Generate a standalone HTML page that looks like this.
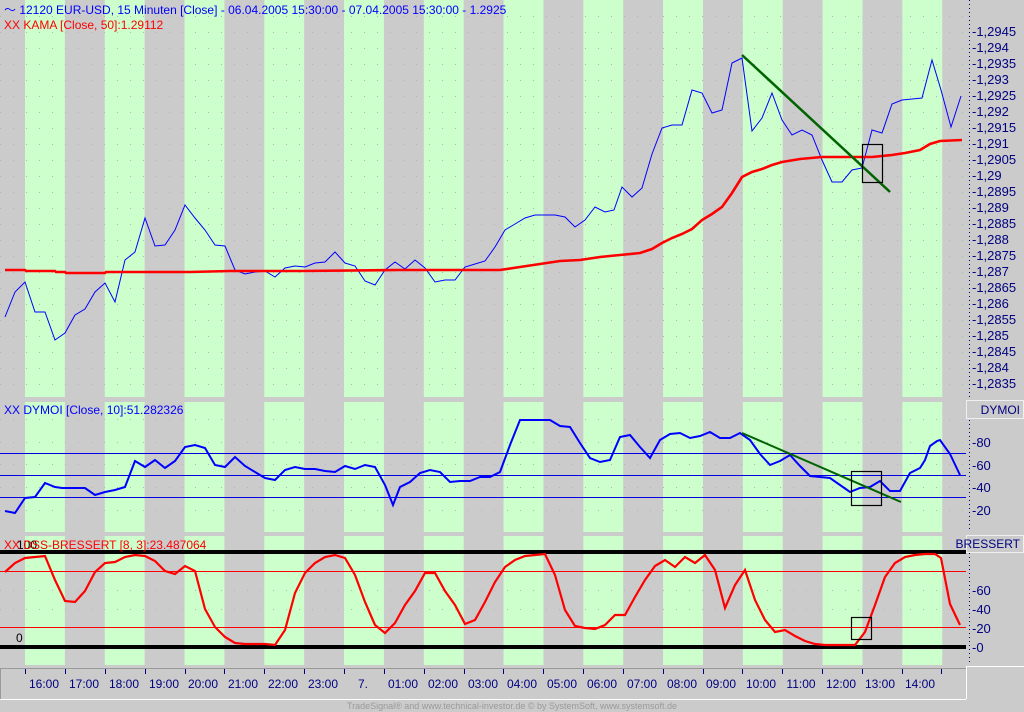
<!DOCTYPE html>
<html><head><meta charset="utf-8"><style>
html,body{margin:0;padding:0;background:#cbcbcb;}
svg{display:block;font-family:"Liberation Sans",sans-serif;}
</style></head><body>
<svg width="1024" height="712" viewBox="0 0 1024 712" xmlns="http://www.w3.org/2000/svg">
<defs>
<pattern id="cols" x="25" y="0" width="79.76" height="712" patternUnits="userSpaceOnUse">
<rect x="0" y="0" width="39.88" height="712" fill="#ccffcc"/>
</pattern>
</defs>
<rect width="1024" height="712" fill="#cbcbcb"/>
<rect x="0" y="0" width="966" height="397" fill="url(#cols)"/>
<rect x="0" y="402" width="966" height="130" fill="url(#cols)"/>
<rect x="0" y="536" width="966" height="129" fill="url(#cols)"/>
<g stroke="#b4b4b4" stroke-width="1" stroke-dasharray="1 12">
<line x1="0" y1="16.5" x2="966" y2="16.5"/><line x1="0" y1="32.5" x2="966" y2="32.5"/><line x1="0" y1="48.5" x2="966" y2="48.5"/><line x1="0" y1="64.5" x2="966" y2="64.5"/><line x1="0" y1="80.5" x2="966" y2="80.5"/><line x1="0" y1="96.5" x2="966" y2="96.5"/><line x1="0" y1="112.5" x2="966" y2="112.5"/><line x1="0" y1="128.5" x2="966" y2="128.5"/><line x1="0" y1="144.5" x2="966" y2="144.5"/><line x1="0" y1="160.5" x2="966" y2="160.5"/><line x1="0" y1="176.5" x2="966" y2="176.5"/><line x1="0" y1="192.5" x2="966" y2="192.5"/><line x1="0" y1="208.5" x2="966" y2="208.5"/><line x1="0" y1="224.5" x2="966" y2="224.5"/><line x1="0" y1="240.5" x2="966" y2="240.5"/><line x1="0" y1="256.5" x2="966" y2="256.5"/><line x1="0" y1="272.5" x2="966" y2="272.5"/><line x1="0" y1="288.5" x2="966" y2="288.5"/><line x1="0" y1="304.5" x2="966" y2="304.5"/><line x1="0" y1="320.5" x2="966" y2="320.5"/><line x1="0" y1="336.5" x2="966" y2="336.5"/><line x1="0" y1="352.5" x2="966" y2="352.5"/><line x1="0" y1="368.5" x2="966" y2="368.5"/><line x1="0" y1="384.5" x2="966" y2="384.5"/>
<line x1="0" y1="419.5" x2="966" y2="419.5"/><line x1="0" y1="442.5" x2="966" y2="442.5"/><line x1="0" y1="464.5" x2="966" y2="464.5"/><line x1="0" y1="487.5" x2="966" y2="487.5"/><line x1="0" y1="510.5" x2="966" y2="510.5"/>
<line x1="0" y1="590.5" x2="966" y2="590.5"/><line x1="0" y1="609.5" x2="966" y2="609.5"/>
</g>
<polyline fill="none" stroke="#0000ff" stroke-width="1" points="5,317 15,292 25,282 35,312 45,312 55,340 65,333 75,315 85,309 95,292 105,283 115,302 125,260 135,252 145,218 155,246 165,245 175,230 185,205 195,218 205,230 215,245 225,246 235,270 245,274 255,272 265,271 275,277 285,268 295,266 305,267 315,263 325,262 335,252 345,263 355,266 365,281 375,285 385,270 395,262 405,269 415,260 425,268 435,282 445,280 455,280 465,267 475,264 485,261 495,247 505,230 515,224 525,218 535,215 545,215 555,215 565,217 575,227 585,220 595,207 605,212 614,210 622,187 632,197 642,188 652,154 662,128 672,125 682,125 692,90 702,93 712,113 722,110 732,63 742,58 752,131 762,118 772,93 782,120 792,135 802,130 812,135 822,160 832,182 842,182 852,170 862,168 872,130 882,133 892,104 902,100 912,99 922,98 932,60 941,90 951,127 961,96"/>
<polyline fill="none" stroke="#ff0000" stroke-width="2.6" points="5,270 25,270 26,271 55,271 56,272 65,272 66,273 105,273 106,272 190,272 230,271 300,271 400,270 500,270 520,267 540,264 560,261 580,260 600,257 620,255 640,253 652,249 662,243 672,238 682,234 692,229 702,220 712,214 722,207 732,193 742,177 752,172 762,169 772,165 782,162 800,159 822,157 872,157 892,155 905,153 920,150 930,144 940,141 962,140"/>
<line x1="742" y1="55" x2="890" y2="192" stroke="#006400" stroke-width="2.5"/>
<rect x="862.5" y="144.5" width="20" height="38" fill="none" stroke="#000" stroke-width="1.2"/>
<g stroke="#0000e0" stroke-width="1"><line x1="0" y1="453.5" x2="966" y2="453.5"/><line x1="0" y1="475.5" x2="966" y2="475.5"/><line x1="0" y1="497.5" x2="966" y2="497.5"/></g>
<polyline fill="none" stroke="#0000ff" stroke-width="2" points="5,511 15,513 25,498 35,497 45,483 55,487 62,488 85,488 95,495 105,492 115,490 125,487 135,461 145,467 155,460 165,468 175,461 185,447 195,445 205,448 215,465 225,467 235,457 245,466 255,472 265,478 275,480 285,470 295,467 305,469 315,469 325,471 335,472 345,466 355,469 365,465 375,467 385,485 393,505 400,487 410,482 420,473 430,470 440,472 450,482 460,481 470,481 480,477 490,477 500,472 510,445 520,420 530,420 540,420 550,420 560,426 570,427 580,443 590,458 600,462 610,460 620,437 630,435 640,447 650,458 660,440 670,434 680,433 690,438 700,436 710,432 720,438 730,438 740,433 750,440 760,454 770,465 780,461 790,455 800,466 810,476 820,477 830,478 840,485 850,492 860,488 870,487 880,481 890,491 900,491 910,473 920,468 925,460 930,446 937,441 940,440 950,454 960,475"/>
<line x1="742" y1="433" x2="901" y2="502" stroke="#006400" stroke-width="2"/>
<rect x="851.5" y="471.5" width="30" height="34" fill="none" stroke="#000" stroke-width="1.2"/>
<rect x="0" y="550" width="966" height="4" fill="#000"/>
<rect x="0" y="645" width="966" height="4" fill="#000"/>
<g stroke="#ff0000" stroke-width="1"><line x1="0" y1="571.5" x2="966" y2="571.5"/><line x1="0" y1="627.5" x2="966" y2="627.5"/></g>
<polyline fill="none" stroke="#ff0000" stroke-width="2.2" points="5,572 15,563 25,558 35,557 45,556 55,580 65,601 75,602 85,591 95,572 105,563 115,562 125,557 135,555 145,556 155,561 165,571 175,574 185,566 195,571 205,609 215,627 225,637 235,643 245,644 265,644 275,645 285,630 295,593 305,573 315,563 325,557 335,555 345,558 355,575 365,602 375,625 385,633 395,623 405,605 415,591 425,573 435,573 445,591 455,605 465,624 475,620 485,602 495,582 505,567 515,560 525,556 535,555 545,554 555,575 565,610 575,626 585,628 595,629 605,625 615,615 625,615 635,597 645,580 655,566 665,560 675,567 685,557 695,563 705,555 715,570 725,608 735,585 745,570 755,600 765,620 775,632 785,630 795,636 805,641 815,644 825,645 855,645 865,632 875,605 885,577 895,563 905,557 915,555 925,554 935,554 941,558 950,604 960,625"/>
<rect x="851.5" y="617.5" width="20" height="22" fill="none" stroke="#000" stroke-width="1.2"/>
<text x="4" y="14" font-size="12" fill="#0000ff">〜 12120  EUR-USD, 15 Minuten [Close] - 06.04.2005 15:30:00 - 07.04.2005 15:30:00 - 1.2925</text>
<text x="4" y="29" font-size="12" fill="#ff0000">XX KAMA [Close, 50]:1.29112</text>
<text x="4" y="414" font-size="12" fill="#0000ff">XX DYMOI [Close, 10]:51.282326</text>
<text x="17" y="549" font-size="12" fill="#000">100</text>
<text x="4" y="549" font-size="12" fill="#ff0000">XX DSS-BRESSERT [8, 3]:23.487064</text>
<text x="16" y="642" font-size="12" fill="#000">0</text>
<rect x="966" y="0" width="58" height="712" fill="#cbcbcb"/>
<g stroke="#000080" stroke-width="1" stroke-dasharray="1 3"><line x1="969.5" y1="0" x2="969.5" y2="397"/><line x1="969.5" y1="420" x2="969.5" y2="532"/><line x1="969.5" y1="553" x2="969.5" y2="665"/></g>
<g font-size="13" fill="#000080">
<text x="972" y="36">-1,2945</text><text x="972" y="52">-1,294</text><text x="972" y="68">-1,2935</text><text x="972" y="84">-1,293</text><text x="972" y="100">-1,2925</text><text x="972" y="116">-1,292</text><text x="972" y="132">-1,2915</text><text x="972" y="148">-1,291</text><text x="972" y="164">-1,2905</text><text x="972" y="180">-1,29</text><text x="972" y="196">-1,2895</text><text x="972" y="212">-1,289</text><text x="972" y="228">-1,2885</text><text x="972" y="244">-1,288</text><text x="972" y="260">-1,2875</text><text x="972" y="276">-1,287</text><text x="972" y="292">-1,2865</text><text x="972" y="308">-1,286</text><text x="972" y="324">-1,2855</text><text x="972" y="340">-1,285</text><text x="972" y="356">-1,2845</text><text x="972" y="372">-1,284</text><text x="972" y="388">-1,2835</text>
<text x="972" y="447">-80</text><text x="972" y="470">-60</text><text x="972" y="492">-40</text><text x="972" y="515">-20</text>
<text x="972" y="595">-60</text><text x="972" y="614">-40</text><text x="972" y="633">-20</text><text x="972" y="652">-0</text>
</g>
<rect x="966.5" y="400.5" width="57" height="18" fill="#cbcbcb" stroke="#f0f0f0"/>
<text x="1020" y="414" font-size="12" fill="#000080" text-anchor="end">DYMOI</text>
<rect x="966.5" y="535.5" width="57" height="17" fill="#cbcbcb" stroke="#f0f0f0"/>
<text x="1020" y="548" font-size="12" fill="#000080" text-anchor="end">BRESSERT</text>
<line x1="966" y1="666.5" x2="1024" y2="666.5" stroke="#fff"/>
<line x1="0" y1="668.5" x2="966" y2="668.5" stroke="#999"/>
<line x1="0" y1="699.5" x2="966" y2="699.5" stroke="#fff"/>
<line x1="966.5" y1="666" x2="966.5" y2="699" stroke="#fff"/>
<line x1="0.5" y1="668" x2="0.5" y2="699" stroke="#999"/>
<g stroke="#000080" stroke-width="1">
<line x1="25.5" y1="669" x2="25.5" y2="674"/><line x1="65.5" y1="669" x2="65.5" y2="674"/><line x1="105.5" y1="669" x2="105.5" y2="674"/><line x1="145.5" y1="669" x2="145.5" y2="674"/><line x1="185.5" y1="669" x2="185.5" y2="674"/><line x1="224.5" y1="669" x2="224.5" y2="674"/><line x1="264.5" y1="669" x2="264.5" y2="674"/><line x1="304.5" y1="669" x2="304.5" y2="674"/><line x1="344.5" y1="669" x2="344.5" y2="674"/><line x1="384.5" y1="669" x2="384.5" y2="674"/><line x1="424.5" y1="669" x2="424.5" y2="674"/><line x1="464.5" y1="669" x2="464.5" y2="674"/><line x1="503.5" y1="669" x2="503.5" y2="674"/><line x1="543.5" y1="669" x2="543.5" y2="674"/><line x1="583.5" y1="669" x2="583.5" y2="674"/><line x1="623.5" y1="669" x2="623.5" y2="674"/><line x1="663.5" y1="669" x2="663.5" y2="674"/><line x1="703.5" y1="669" x2="703.5" y2="674"/><line x1="742.5" y1="669" x2="742.5" y2="674"/><line x1="782.5" y1="669" x2="782.5" y2="674"/><line x1="822.5" y1="669" x2="822.5" y2="674"/><line x1="862.5" y1="669" x2="862.5" y2="674"/><line x1="902.5" y1="669" x2="902.5" y2="674"/><line x1="941.5" y1="669" x2="941.5" y2="674"/>
</g>
<g font-size="12" fill="#000080" text-anchor="middle">
<text x="44" y="688">16:00</text><text x="84" y="688">17:00</text><text x="124" y="688">18:00</text><text x="164" y="688">19:00</text><text x="203" y="688">20:00</text><text x="243" y="688">21:00</text><text x="283" y="688">22:00</text><text x="323" y="688">23:00</text><text x="363" y="688">7.</text><text x="403" y="688">01:00</text><text x="443" y="688">02:00</text><text x="483" y="688">03:00</text><text x="522" y="688">04:00</text><text x="562" y="688">05:00</text><text x="602" y="688">06:00</text><text x="642" y="688">07:00</text><text x="682" y="688">08:00</text><text x="721" y="688">09:00</text><text x="761" y="688">10:00</text><text x="801" y="688">11:00</text><text x="841" y="688">12:00</text><text x="880" y="688">13:00</text><text x="920" y="688">14:00</text>
</g>
<text x="512" y="709" font-size="9" fill="#9a9a9a" text-anchor="middle">TradeSignal® and www.technical-investor.de © by  SystemSoft, www.systemsoft.de</text>
</svg>
</body></html>
